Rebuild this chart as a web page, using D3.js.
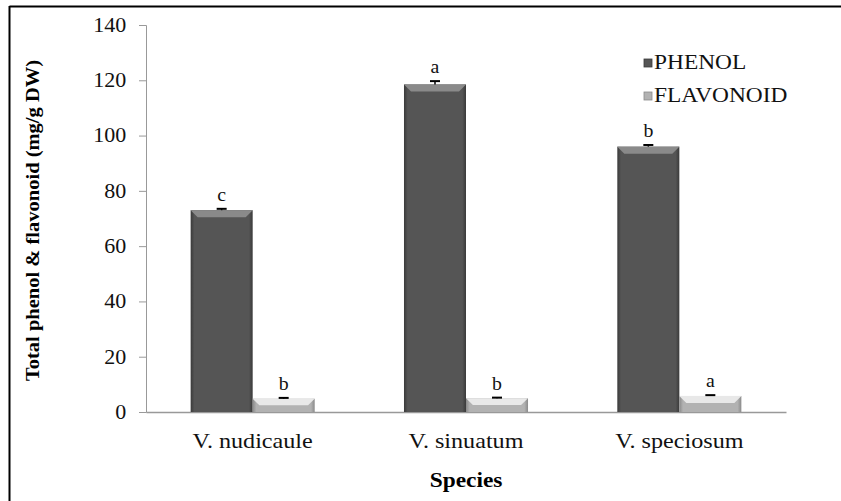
<!DOCTYPE html>
<html>
<head>
<meta charset="utf-8">
<script src="https://cdn.jsdelivr.net/npm/d3@7"></script>
<style>
  body { margin: 0; background: #fff; }
  text { font-family: "Liberation Serif", "Times New Roman", serif; }
</style>
</head>
<body>
<script>
var width = 841;
var height = 501;

// data
var species = ['V. nudicaule', 'V. sinuatum', 'V. speciosum'];
var seriesNames = ['PHENOL', 'FLAVONOID'];
var phenol = [73, 118.5, 96];
var flavonoid = [4.8, 5.0, 5.8];
var phenolErr = [0.5, 1.2, 0.6];
var flavonoidErr = [0.3, 0.2, 0.3];
var phenolLetters = ['c', 'a', 'b'];
var flavonoidLetters = ['b', 'b', 'a'];
var yTicks = [0, 20, 40, 60, 80, 100, 120, 140];

var colors = { PHENOL: '#555555', FLAVONOID: '#b2b2b2' };
var edges = { PHENOL: '#3a3a3a', FLAVONOID: '#8a8a8a' };
var tops = { PHENOL: '#8a8a8a', FLAVONOID: '#e8e8e8' };

var rows = [];
species.forEach(function(s, i) {
  rows.push({ sp: s, key: 'PHENOL', v: phenol[i], e: phenolErr[i], l: phenolLetters[i] });
  rows.push({ sp: s, key: 'FLAVONOID', v: flavonoid[i], e: flavonoidErr[i], l: flavonoidLetters[i] });
});

var svg = d3.select('body').append('svg')
  .attr('width', width)
  .attr('height', height);

var defs = svg.append('defs');
seriesNames.forEach(function(k) {
  var g = defs.append('linearGradient').attr('id', 'grad-' + k)
    .attr('x1', '0%').attr('x2', '100%').attr('y1', '0%').attr('y2', '0%');
  g.append('stop').attr('offset', '0%').attr('stop-color', edges[k]);
  g.append('stop').attr('offset', '6%').attr('stop-color', colors[k]);
  g.append('stop').attr('offset', '94%').attr('stop-color', colors[k]);
  g.append('stop').attr('offset', '100%').attr('stop-color', edges[k]);
});

// frame (top and left only)
svg.append('line').attr('x1', 9.5).attr('x2', width).attr('y1', 6.5).attr('y2', 6.5)
  .attr('stroke', '#000').attr('stroke-width', 2);
svg.append('line').attr('x1', 9.5).attr('x2', 9.5).attr('y1', 6).attr('y2', height)
  .attr('stroke', '#000').attr('stroke-width', 2);

var plotLeft = 146, plotRight = 786, plotTop = 25, plotBottom = 412;

var x0 = d3.scaleBand().domain(species).range([plotLeft, plotRight]).paddingInner(0).paddingOuter(0);
var x1 = d3.scaleBand().domain(seriesNames).range([0, x0.bandwidth()]).paddingInner(0).paddingOuter(0.72);
var y = d3.scaleLinear().domain([0, 140]).range([plotBottom, plotTop]);

// y axis
var yAxis = svg.append('g').attr('transform', 'translate(' + plotLeft + ',0)')
  .call(d3.axisLeft(y).tickValues(yTicks).tickSize(7).tickPadding(11));
yAxis.select('.domain').attr('stroke', '#999');
yAxis.selectAll('.tick line').attr('stroke', '#999');
yAxis.selectAll('.tick text').attr('font-size', 20).attr('fill', '#111')
  .attr('font-family', '"Liberation Serif", serif')
  .attr('transform', 'scale(1.1,1)');

// x axis
var xAxis = svg.append('g').attr('transform', 'translate(0,' + plotBottom + ')')
  .call(d3.axisBottom(x0).tickSize(0).tickPadding(21));
xAxis.select('.domain').attr('stroke', '#999').attr('stroke-width', 1.5);
xAxis.selectAll('.tick text').attr('font-size', 21).attr('fill', '#111')
  .attr('font-family', '"Liberation Serif", serif')
  .attr('transform', 'scale(1.15,1)');

// bars
var bars = svg.append('g').selectAll('g.bar').data(rows).enter().append('g')
  .attr('transform', function(d) { return 'translate(' + (x0(d.sp) + x1(d.key)) + ',0)'; });
var bw = x1.bandwidth();

bars.append('rect')
  .attr('x', 0)
  .attr('y', function(d) { return y(d.v); })
  .attr('width', bw)
  .attr('height', function(d) { return plotBottom - y(d.v); })
  .attr('fill', function(d) { return 'url(#grad-' + d.key + ')'; });

// top bevel
bars.append('path')
  .attr('d', function(d) {
    var yt = y(d.v), b = Math.min(7, (plotBottom - yt) / 2);
    return 'M0,' + yt + 'L' + bw + ',' + yt + 'L' + (bw - b) + ',' + (yt + b) + 'L' + b + ',' + (yt + b) + 'Z';
  })
  .attr('fill', function(d) { return tops[d.key]; });

// error bars
bars.append('line')
  .attr('x1', bw / 2).attr('x2', bw / 2)
  .attr('y1', function(d) { return y(d.v); })
  .attr('y2', function(d) { return y(d.v + d.e); })
  .attr('stroke', '#000').attr('stroke-width', 1.5);
bars.append('line')
  .attr('x1', bw / 2 - 5).attr('x2', bw / 2 + 5)
  .attr('y1', function(d) { return y(d.v + d.e); })
  .attr('y2', function(d) { return y(d.v + d.e); })
  .attr('stroke', '#000').attr('stroke-width', 2);

// letters
bars.append('text')
  .attr('transform', function(d) { return 'translate(' + (bw / 2) + ',' + (y(d.v + d.e) - 8) + ') scale(1.1,1)'; })
  .attr('text-anchor', 'middle')
  .attr('font-size', 18)
  .attr('fill', '#111')
  .text(function(d) { return d.l; });

// axis titles
svg.append('text')
  .attr('transform', 'translate(39,' + ((plotTop + plotBottom) / 2 + 2) + ') rotate(-90) scale(1.08,1)')
  .attr('text-anchor', 'middle')
  .attr('font-size', 19).attr('font-weight', 'bold')
  .text('Total phenol & flavonoid (mg/g DW)');
svg.append('text')
  .attr('transform', 'translate(' + ((plotLeft + plotRight) / 2) + ',487) scale(1.17,1)')
  .attr('text-anchor', 'middle')
  .attr('font-size', 20).attr('font-weight', 'bold')
  .text('Species');

// legend
var legend = svg.append('g').selectAll('g').data(seriesNames).enter().append('g')
  .attr('transform', function(d, i) { return 'translate(644,' + (69 + i * 33) + ')'; });
legend.append('rect')
  .attr('x', 0).attr('y', -10).attr('width', 8).attr('height', 8)
  .attr('fill', function(d) { return colors[d]; })
  .attr('stroke', function(d) { return edges[d]; }).attr('stroke-width', 0.8);
legend.append('text')
  .attr('transform', 'translate(10,0) scale(1.17,1)')
  .attr('font-size', 20).attr('fill', '#111')
  .text(function(d) { return d; });
</script>
</body>
</html>
